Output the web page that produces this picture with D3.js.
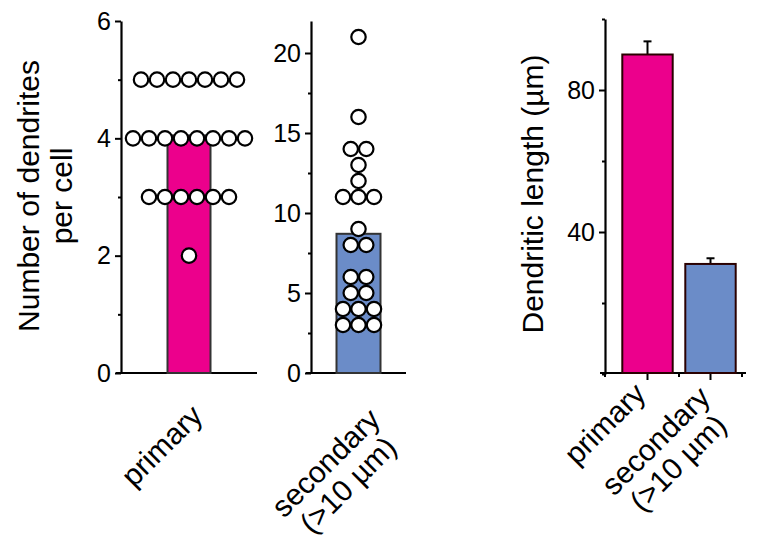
<!DOCTYPE html>
<html>
<head>
<meta charset="utf-8">
<script src="https://cdn.jsdelivr.net/npm/d3@7"></script>
<style>
  html, body { margin: 0; padding: 0; background: #fff; }
  svg { display: block; }
  text { font-family: Arial, "Liberation Sans", Helvetica, sans-serif; fill: #000; }
</style>
</head>
<body>
<svg id="chart" width="760" height="542"></svg>
<script>
// ---------- data ----------
const categories = ["primary", "secondary (>10 µm)"];
const primaryCounts = [5,5,5,5,5,5,5, 4,4,4,4,4,4,4,4, 3,3,3,3,3,3, 2];
const secondaryCounts = [21, 16, 14,14, 13, 12, 11,11,11, 9, 8,8, 6,6, 5,5, 4,4,4, 3,3,3];
const countMeans = [4.05, 8.7];
const lengthMeans = [90, 31];
const lengthErrors = [3.7, 1.6];
const leftTicksMajor = [0, 2, 4, 6];
const leftTicksMinor = [1, 3, 5];
const midTicksMajor = [0, 5, 10, 15, 20];
const midTicksMinor = [2.5, 7.5, 12.5, 17.5];
const rightTicksMajor = [40, 80];
const rightTicksMinor = [0, 20, 60, 100];

const PINK = "#ec008c", BLUE = "#6b8cc8";
const svg = d3.select("#chart");
const TICKFONT = 25, LABFONT = 30;

function yAxis(g, scale, major, minor) {
  g.call(d3.axisLeft(scale).tickValues(minor).tickSize(3).tickSizeOuter(0).tickFormat(""));
  g.append("g").call(d3.axisLeft(scale).tickValues(major).tickSize(6).tickSizeOuter(0).tickPadding(4)
      .tickFormat(d3.format("~g")))
    .call(a => a.select(".domain").remove());
  g.selectAll("path.domain").attr("stroke", "#000").attr("stroke-width", 2.2);
  g.selectAll(".tick line").attr("stroke", "#000").attr("stroke-width", 2);
  g.selectAll(".tick text").attr("font-size", TICKFONT).attr("font-family", "Arial, 'Liberation Sans', sans-serif");
}

function dotsFor(values, cx, spacing) {
  const groups = d3.groups(values, v => v);
  const out = [];
  groups.forEach(([v, arr]) => {
    const n = arr.length;
    arr.forEach((_, i) => out.push({ v, dx: (i - (n - 1) / 2) * spacing }));
  });
  return out;
}

function rotLabel(lines, x, y) {
  const t = svg.append("text")
    .attr("transform", `translate(${x},${y}) rotate(-45)`)
    .attr("text-anchor", "middle").attr("font-size", LABFONT);
  lines.forEach((l, i) => t.append("tspan").attr("x", 0).attr("dy", i === 0 ? 0 : "1.05em").text(l));
}

// ---------- panel 1: primary counts ----------
{
  const y = d3.scaleLinear().domain([0, 6]).range([373, 21]);
  const x = d3.scaleBand().domain([categories[0]]).range([121, 257]).paddingInner(0).paddingOuter(0.33);
  const cx = x(categories[0]) + x.bandwidth() / 2;
  svg.append("line").attr("x1", 116).attr("x2", 257).attr("y1", y(0)).attr("y2", y(0))
    .attr("stroke", "#000").attr("stroke-width", 2.2);
  svg.append("rect").attr("x", cx - 21.5).attr("width", 43)
    .attr("y", y(countMeans[0])).attr("height", y(0) - y(countMeans[0]))
    .attr("fill", PINK).attr("stroke", "#333").attr("stroke-width", 2);
  yAxis(svg.append("g").attr("transform", "translate(121,0)"), y, leftTicksMajor, leftTicksMinor);
  svg.append("g").selectAll("circle").data(dotsFor(primaryCounts, cx, 16)).join("circle")
    .attr("cx", d => cx + d.dx).attr("cy", d => y(d.v)).attr("r", 7.2)
    .attr("fill", "#fff").attr("stroke", "#000").attr("stroke-width", 2.2);
  rotLabel(["primary"], 169, 453);
}

// ---------- panel 2: secondary counts ----------
{
  const y = d3.scaleLinear().domain([0, 22]).range([373, 21]);
  const x = d3.scaleBand().domain([categories[1]]).range([311, 406]).paddingOuter(0.25);
  const cx = x(categories[1]) + x.bandwidth() / 2;
  svg.append("line").attr("x1", 306).attr("x2", 406).attr("y1", y(0)).attr("y2", y(0))
    .attr("stroke", "#000").attr("stroke-width", 2.2);
  svg.append("rect").attr("x", cx - 22).attr("width", 44)
    .attr("y", y(countMeans[1])).attr("height", y(0) - y(countMeans[1]))
    .attr("fill", BLUE).attr("stroke", "#333").attr("stroke-width", 2);
  yAxis(svg.append("g").attr("transform", "translate(311,0)"), y, midTicksMajor, midTicksMinor);
  svg.append("g").selectAll("circle").data(dotsFor(secondaryCounts, cx, 15.5)).join("circle")
    .attr("cx", d => cx + d.dx).attr("cy", d => y(d.v)).attr("r", 7.2)
    .attr("fill", "#fff").attr("stroke", "#000").attr("stroke-width", 2.2);
  rotLabel(["secondary", "(>10 µm)"], 333, 470);
}

// ---------- panel 3: dendritic length ----------
{
  const y = d3.scaleLinear().domain([0, 100]).range([374, 19]);
  const x = d3.scaleBand().domain(categories).range([616, 742]).paddingInner(0).paddingOuter(0);
  const bw = x.bandwidth() * 0.8;
  const colors = [PINK, BLUE];
  svg.append("line").attr("x1", 600).attr("x2", 746).attr("y1", 373).attr("y2", 373)
    .attr("stroke", "#000").attr("stroke-width", 2.2);
  // x ticks
  categories.forEach(c => {
    const c0 = x(c) + x.bandwidth() / 2;
    svg.append("line").attr("x1", c0).attr("x2", c0).attr("y1", 373).attr("y2", 380)
      .attr("stroke", "#000").attr("stroke-width", 2);
    svg.append("line").attr("x1", x(c) + x.bandwidth()).attr("x2", x(c) + x.bandwidth())
      .attr("y1", 373).attr("y2", 377).attr("stroke", "#000").attr("stroke-width", 2);
  });
  svg.append("line").attr("x1", 605).attr("x2", 605).attr("y1", 373).attr("y2", 377)
    .attr("stroke", "#000").attr("stroke-width", 2);
  // error bars
  categories.forEach((c, i) => {
    const c0 = x(c) + x.bandwidth() / 2;
    svg.append("line").attr("x1", c0).attr("x2", c0)
      .attr("y1", y(lengthMeans[i])).attr("y2", y(lengthMeans[i] + lengthErrors[i]))
      .attr("stroke", "#000").attr("stroke-width", 2);
    svg.append("line").attr("x1", c0 - 4).attr("x2", c0 + 4)
      .attr("y1", y(lengthMeans[i] + lengthErrors[i])).attr("y2", y(lengthMeans[i] + lengthErrors[i]))
      .attr("stroke", "#000").attr("stroke-width", 2);
  });
  svg.append("g").selectAll("rect").data(categories).join("rect")
    .attr("x", c => x(c) + (x.bandwidth() - bw) / 2).attr("width", bw)
    .attr("y", (c, i) => y(lengthMeans[i])).attr("height", (c, i) => y(0) - y(lengthMeans[i]) - 1)
    .attr("fill", (c, i) => colors[i]).attr("stroke", "#2a0000").attr("stroke-width", 2);
  yAxis(svg.append("g").attr("transform", "translate(605,0)"), y, rightTicksMajor, rightTicksMinor);
  rotLabel(["primary"], 612, 431);
  rotLabel(["secondary", "(>10 µm)"], 663, 448);
}

// ---------- axis titles ----------
svg.append("text").attr("transform", "translate(38.5,196) rotate(-90)")
  .attr("text-anchor", "middle").attr("font-size", LABFONT).text("Number of dendrites");
svg.append("text").attr("transform", "translate(71.5,196) rotate(-90)")
  .attr("text-anchor", "middle").attr("font-size", LABFONT).text("per cell");
svg.append("text").attr("transform", "translate(543,194) rotate(-90)")
  .attr("text-anchor", "middle").attr("font-size", LABFONT).text("Dendritic length (µm)");
</script>
</body>
</html>
